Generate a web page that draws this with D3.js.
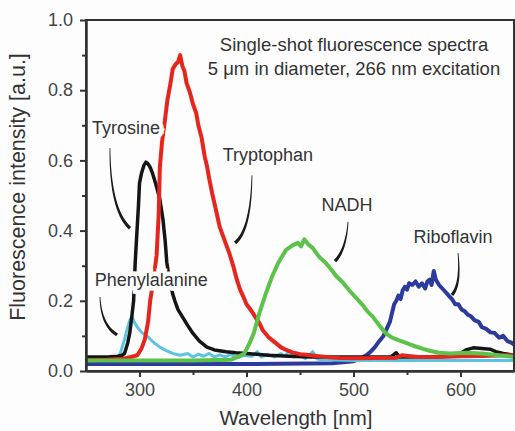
<!DOCTYPE html>
<html>
<head>
<meta charset="utf-8">
<script src="https://cdn.jsdelivr.net/npm/d3@7"></script>
<style>
  body { margin: 0; background: #fdfdfd; }
  svg { display: block; font-family: "Liberation Sans", Arial, sans-serif; }
</style>
</head>
<body>
<div></div>
<script>
// spectra: wavelength [nm] and intensity [a.u.]
const trpWl  = [250,270,285,292,298,302,305,308,310,313,316,318,319,321,324,326,329,331,334,336,338,340,342,344,347,350,353,355,358,361,363,365,368,371,375,378,381,384,388,391,394,397,400,403,406,409,412,415,418,421,424,428,432,437,443,450,456,465,475,487,500,520,540,545,560,580,600,620,640,650];
const trpVal = [0.03,0.032,0.035,0.04,0.045,0.065,0.09,0.14,0.2,0.26,0.33,0.45,0.58,0.65,0.72,0.77,0.82,0.86,0.875,0.88,0.9,0.87,0.855,0.82,0.795,0.76,0.735,0.7,0.665,0.61,0.585,0.55,0.505,0.465,0.41,0.385,0.36,0.335,0.295,0.26,0.232,0.212,0.19,0.178,0.165,0.15,0.137,0.117,0.106,0.095,0.088,0.078,0.068,0.06,0.053,0.048,0.046,0.043,0.04,0.037,0.036,0.037,0.038,0.045,0.04,0.04,0.042,0.043,0.045,0.045];

const tyrWl  = [250,270,280,284,286,289,291,293,294.5,296,297.5,299,300,302,304,306,308,310,312,315,319,322,324,325.5,328,331,333,336,340,345,350,356,363,370,381,390,400,420,440,460,480,500,520,535,540,543,560,590,600,605,612,620,628,633,640,650];
const tyrVal = [0.04,0.04,0.042,0.045,0.05,0.08,0.11,0.16,0.2,0.31,0.39,0.47,0.535,0.565,0.585,0.595,0.59,0.58,0.565,0.535,0.49,0.43,0.37,0.31,0.26,0.22,0.2,0.175,0.155,0.13,0.107,0.085,0.068,0.06,0.055,0.052,0.05,0.045,0.042,0.04,0.04,0.04,0.04,0.04,0.052,0.04,0.04,0.042,0.05,0.06,0.066,0.064,0.062,0.055,0.05,0.045];

const pheWl  = [250,270,278,282,284,286,289,291,293,295,298,302,308,313,319,325,331,338,345,350,355,360,365,370,375,380,385,392,398,405,410,414,420,426,432,436,440,444,450,455,462,466,470,500,530,560,600,650];
const pheVal = [0.03,0.03,0.035,0.05,0.07,0.09,0.125,0.145,0.155,0.14,0.125,0.11,0.097,0.082,0.068,0.058,0.05,0.045,0.05,0.04,0.048,0.042,0.05,0.04,0.046,0.04,0.047,0.038,0.045,0.042,0.055,0.04,0.048,0.04,0.05,0.042,0.058,0.04,0.045,0.035,0.055,0.034,0.032,0.03,0.03,0.03,0.03,0.03];

const nadhWl  = [250,300,350,385,392,398,403,407,412,418,424,430,437,443,448,451,454,458,462,468,474,479,484,490,496,502,508,513,518,524,530,536,542,549,556,565,572,580,590,605,620,635,650];
const nadhVal = [0.03,0.03,0.03,0.032,0.04,0.05,0.08,0.11,0.165,0.22,0.27,0.31,0.345,0.358,0.365,0.355,0.375,0.36,0.35,0.325,0.308,0.29,0.27,0.252,0.23,0.21,0.19,0.17,0.155,0.13,0.108,0.095,0.088,0.08,0.072,0.063,0.057,0.052,0.05,0.052,0.05,0.045,0.04];

const ribWl  = [250,300,400,480,500,507,512,516,520,524,528,531,534,536,538,540,542,544,546,548,550,552,555,558,561,564,567,569,571,573,575,577,580,583,586,589,592,595,598,601,604,607,610,613,617,620,624,628,632,636,640,644,648,650];
const ribVal = [0.02,0.02,0.02,0.022,0.028,0.035,0.045,0.055,0.068,0.085,0.1,0.12,0.14,0.165,0.19,0.2,0.215,0.205,0.23,0.24,0.232,0.25,0.245,0.255,0.24,0.25,0.235,0.255,0.26,0.245,0.285,0.26,0.245,0.235,0.225,0.215,0.205,0.19,0.19,0.175,0.17,0.16,0.155,0.145,0.14,0.125,0.12,0.11,0.108,0.095,0.1,0.085,0.08,0.075];

const xTicks = [300,400,500,600];
const xMinor = [350,450,550];
const yTicks = [0,0.2,0.4,0.6,0.8,1.0];
const yMinor = [0.1,0.3,0.5,0.7,0.9];

const titleLines = ["Single-shot fluorescence spectra","5 \u03bcm in diameter, 266 nm excitation"];

// label spots and pointer curves, in data units (wavelength, intensity)
const labelNames = ["Tyrosine","Phenylalanine","Tryptophan","NADH","Riboflavin"];
const labelAt = [[287.4,0.692],[311,0.259],[420,0.615],[494,0.473],[593,0.382]];
const pointers = [
  [[272.4,0.635],[272.4,0.459],[291.1,0.407]],
  [[263.1,0.211],[264,0.131],[279,0.103]],
  [[405.1,0.558],[404.2,0.402],[389.3,0.365]],
  [[494.9,0.425],[493,0.345],[482.7,0.313]],
  [[597.7,0.336],[600.5,0.245],[592,0.217]]
];

const canvas = d3.select("div");
const svg = canvas.append("svg").attr("width",515).attr("height",431);

const x = d3.scaleLinear().domain([250,650]).range([86,514]);
const y = d3.scaleLinear().domain([0,1]).range([371,20]);

svg.append("clipPath").attr("id","plot")
  .append("rect").attr("x",86).attr("y",20).attr("width",428).attr("height",351);

const line = d3.line().x(d => x(d[0])).y(d => y(d[1]));
const series = [
  {wl: ribWl, val: ribVal, color: "#2b3a9c", w: 4},
  {wl: pheWl, val: pheVal, color: "#5cc4e2", w: 3},
  {wl: tyrWl, val: tyrVal, color: "#151515", w: 3.5},
  {wl: trpWl, val: trpVal, color: "#e5261d", w: 4},
  {wl: nadhWl, val: nadhVal, color: "#5cc24a", w: 4}
];

const curves = svg.append("g").attr("clip-path","url(#plot)");
series.forEach(s => {
  curves.append("path")
    .datum(s.wl.map((w,i) => [w, s.val[i]]))
    .attr("d", line)
    .attr("fill","none")
    .attr("stroke", s.color)
    .attr("stroke-width", s.w)
    .attr("stroke-linejoin","round");
});

// labels with white halo (they cut through the curves in the original)
svg.append("g").selectAll("text").data(labelNames).join("text")
  .attr("x",(d,i) => x(labelAt[i][0]))
  .attr("y",(d,i) => y(labelAt[i][1]))
  .attr("dy","0.35em")
  .attr("text-anchor","middle")
  .attr("font-size",18)
  .attr("fill","#333")
  .attr("stroke","#fdfdfd").attr("stroke-width",9).attr("paint-order","stroke")
  .text(d => d);

// tapered pointer strokes
function taper(p) {
  const pts = p.map(d => [x(d[0]), y(d[1])]);
  const left = [], right = [];
  const n = 24;
  for (let k = 0; k <= n; k++) {
    const t = k / n, u = 1 - t;
    const px = u*u*pts[0][0] + 2*u*t*pts[1][0] + t*t*pts[2][0];
    const py = u*u*pts[0][1] + 2*u*t*pts[1][1] + t*t*pts[2][1];
    const dx = 2*u*(pts[1][0]-pts[0][0]) + 2*t*(pts[2][0]-pts[1][0]);
    const dy = 2*u*(pts[1][1]-pts[0][1]) + 2*t*(pts[2][1]-pts[1][1]);
    const len = Math.hypot(dx,dy) || 1;
    const hw = (0.8 + 2.6*t) / 2;
    left.push([px - dy/len*hw, py + dx/len*hw]);
    right.push([px + dy/len*hw, py - dx/len*hw]);
  }
  return left.concat(right.reverse());
}
svg.append("g").selectAll("path").data(pointers).join("path")
  .attr("d", d => "M" + taper(d).join("L") + "Z")
  .attr("fill","#1a1a1a");

// frame and axes
svg.append("rect").attr("x",86).attr("y",20).attr("width",428).attr("height",351)
  .attr("fill","none").attr("stroke","#333").attr("stroke-width",2);

const xAxis = svg.append("g").attr("transform","translate(0,371)")
  .call(d3.axisBottom(x).tickValues(xTicks).tickSize(6).tickSizeOuter(0).tickPadding(6));
svg.append("g").attr("transform","translate(0,371)")
  .call(d3.axisBottom(x).tickValues(xMinor).tickSize(4).tickSizeOuter(0).tickFormat(""));
const yAxis = svg.append("g").attr("transform","translate(86,0)")
  .call(d3.axisLeft(y).tickValues(yTicks).tickSize(6).tickSizeOuter(0).tickPadding(7).tickFormat(d3.format(".1f")));
svg.append("g").attr("transform","translate(86,0)")
  .call(d3.axisLeft(y).tickValues(yMinor).tickSize(4).tickSizeOuter(0).tickFormat(""));

svg.selectAll(".domain").attr("stroke","#333").attr("stroke-width",2);
svg.selectAll(".tick line").attr("stroke","#333").attr("stroke-width",2);
svg.selectAll(".tick text").attr("font-size",18).attr("fill","#444")
  .attr("font-family","Liberation Sans, Arial, sans-serif");

svg.append("text").attr("x",296).attr("y",425).attr("text-anchor","middle")
  .attr("font-size",20.5).attr("fill","#333").text("Wavelength [nm]");
svg.append("text").attr("transform","translate(25,187) rotate(-90)").attr("text-anchor","middle")
  .attr("font-size",21.5).attr("fill","#333").text("Fluorescence intensity [a.u.]");

svg.append("g").selectAll("text").data(titleLines).join("text")
  .attr("x",354).attr("y",(d,i) => 51 + i*24)
  .attr("text-anchor","middle").attr("font-size",18.5).attr("fill","#333")
  .text(d => d);
</script>
</body>
</html>
